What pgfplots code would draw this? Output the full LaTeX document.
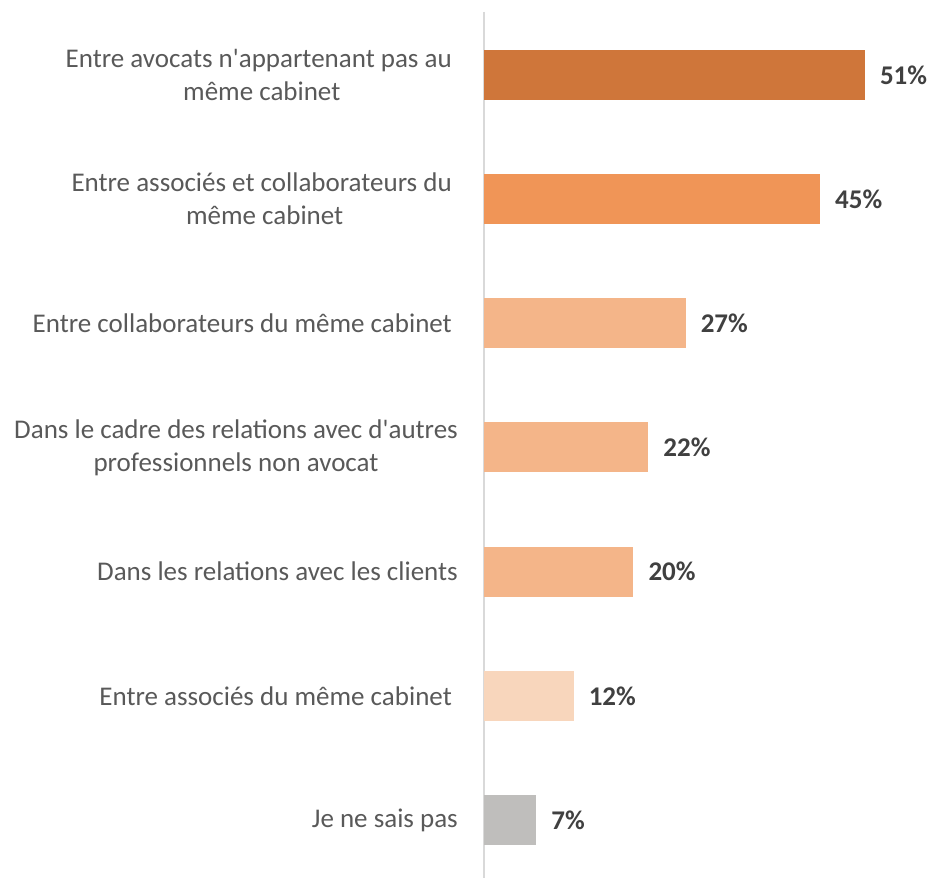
\documentclass[border=0pt]{standalone}
\usepackage{fontspec}
\setmainfont{Carlito}
\usepackage{pgfplots}
\pgfplotsset{compat=1.18}
\definecolor{cA}{HTML}{CF763A}
\definecolor{cB}{HTML}{F09557}
\definecolor{cC}{HTML}{F4B589}
\definecolor{cD}{HTML}{F8D6BC}
\definecolor{cE}{HTML}{BFBEBC}
\definecolor{axgray}{HTML}{D9D9D9}
\definecolor{labgray}{HTML}{595959}
\definecolor{valgray}{HTML}{404040}
\begin{document}
\begin{tikzpicture}
\useasboundingbox (0pt,0pt) rectangle (933pt,878pt);
\begin{axis}[
  at={(484pt,0pt)}, anchor=south west,
  scale only axis, width=448pt, height=866pt,
  xbar, bar width=50pt,
  xmin=0, xmax=60,
  ymin=-0.507, ymax=6.467, y dir=reverse,
  axis x line=none,
  axis y line=left,
  y axis line style={draw=axgray, line width=1.5pt, -},
  xtick=\empty,
  ytick={0,1,2,3,4,5,6},
  yticklabels={
    {Entre avocats n\textquotesingle appartenant pas au\hspace*{6pt}\\même cabinet},
    {Entre associés et collaborateurs du\hspace*{6pt}\\même cabinet},
    {Entre collaborateurs du même cabinet\hspace*{6pt}},
    {Dans le cadre des relations avec d\textquotesingle autres\\professionnels non avocat},
    {Dans les relations avec les clients},
    {Entre associés du même cabinet\hspace*{6pt}},
    {Je ne sais pas}},
  major tick length=0pt,
  yticklabel style={anchor=east, align=center, inner sep=0pt, xshift=-26pt,
    font=\fontsize{27}{33}\selectfont, text=labgray},
  clip=false,
  point meta=x,
  nodes near coords={\pgfmathprintnumber[assume math mode=true]{\pgfplotspointmeta}\%},
  nodes near coords style={anchor=west, inner sep=0pt, xshift=15pt,
    font=\fontsize{27}{33}\selectfont\bfseries, text=valgray},
]
\addplot[fill=cA, draw=none, bar shift=0pt] coordinates {(51,0)};
\addplot[fill=cB, draw=none, bar shift=0pt] coordinates {(45,1)};
\addplot[fill=cC, draw=none, bar shift=0pt] coordinates {(27,2)};
\addplot[fill=cC, draw=none, bar shift=0pt] coordinates {(22,3)};
\addplot[fill=cC, draw=none, bar shift=0pt] coordinates {(20,4)};
\addplot[fill=cD, draw=none, bar shift=0pt] coordinates {(12,5)};
\addplot[fill=cE, draw=none, bar shift=0pt] coordinates {(7,6)};
\end{axis}
\end{tikzpicture}
\end{document}
